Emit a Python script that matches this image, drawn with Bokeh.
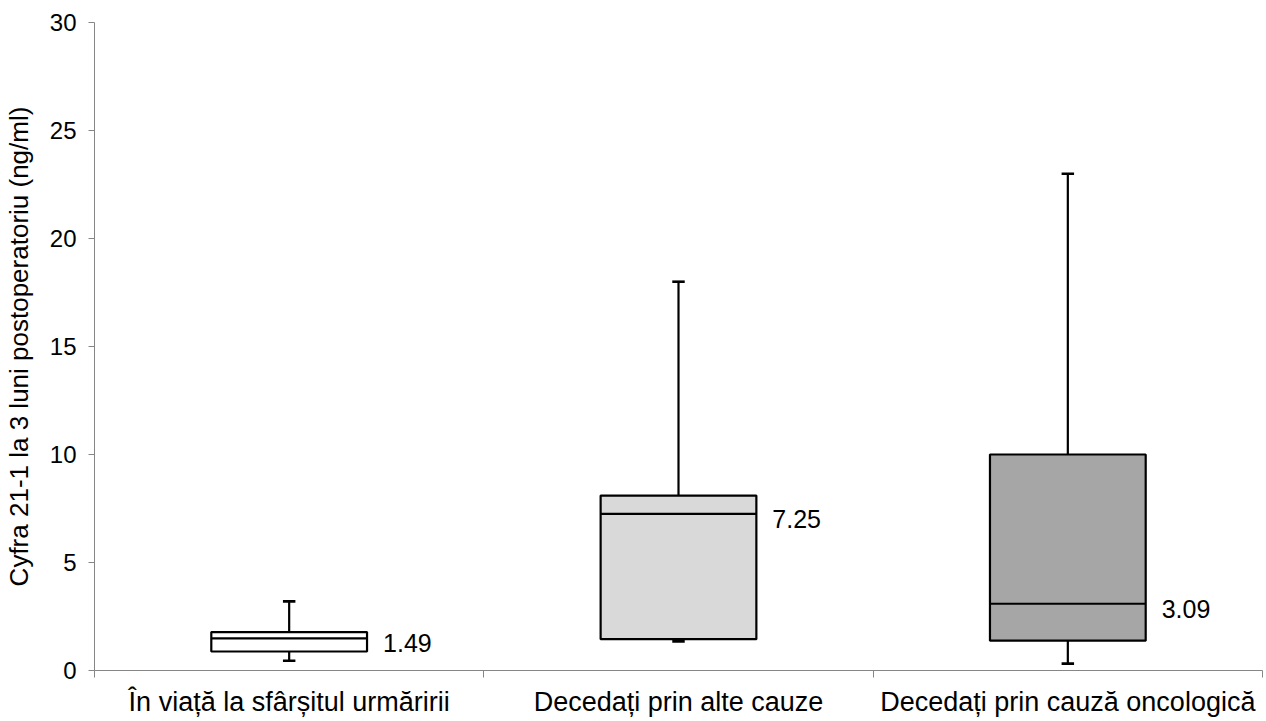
from bokeh.plotting import figure
from bokeh.models import FixedTicker, ColumnDataSource
from bokeh.embed import file_html
from bokeh.resources import INLINE
from bokeh.core.properties import value

# Group labels and box statistics (ng/ml)
categories = ["În viață la sfârșitul urmăririi",
              "Decedați prin alte cauze",
              "Decedați prin cauză oncologică"]
whisker_low = [0.45, 1.35, 0.32]
q1 = [0.88, 1.45, 1.38]
median = [1.49, 7.25, 3.09]
q3 = [1.78, 8.1, 10.0]
whisker_high = [3.2, 18.0, 23.0]
median_labels = ["1.49", "7.25", "3.09"]
fills = ["#ffffff", "#d9d9d9", "#a6a6a6"]

FONT = "Liberation Sans"
AXIS_GREY = "#868686"

centers = [i + 0.5 for i in range(len(categories))]
half = 0.2
cap = 0.016

src = ColumnDataSource(dict(
    x=centers,
    left=[c - half for c in centers],
    right=[c + half for c in centers],
    lo=whisker_low, q1=q1, med=median, q3=q3, hi=whisker_high,
    fill=fills, lab=median_labels,
    cl=[c - cap for c in centers], cr=[c + cap for c in centers],
))

p = figure(width=1266, height=721, x_range=(0, 3), y_range=(0, 30),
           output_backend="svg", toolbar_location=None,
           min_border_left=94, min_border_right=4,
           min_border_top=22, min_border_bottom=51)
p.outline_line_color = None
p.xgrid.visible = False
p.ygrid.visible = False
p.background_fill_color = "white"
p.border_fill_color = "white"

# whiskers
p.segment(x0="x", y0="q3", x1="x", y1="hi", source=src, line_color="black", line_width=2.2)
p.segment(x0="x", y0="lo", x1="x", y1="q1", source=src, line_color="black", line_width=2.2)
p.segment(x0="cl", y0="hi", x1="cr", y1="hi", source=src, line_color="black", line_width=2.6)
p.segment(x0="cl", y0="lo", x1="cr", y1="lo", source=src, line_color="black", line_width=2.6)

# boxes and medians
p.quad(left="left", right="right", bottom="q1", top="q3", source=src,
       fill_color="fill", line_color="black", line_width=2.2)
p.segment(x0="left", y0="med", x1="right", y1="med", source=src,
          line_color="black", line_width=2.2)

# median values
p.text(x="right", y="med", text="lab", source=src, x_offset=16, y_offset=5,
       text_font=value(FONT), text_font_size="25px", text_color="black",
       text_baseline="middle", text_align="left")

# x axis: category names centred, ticks between categories
xa = p.xaxis[0]
xa.ticker = FixedTicker(ticks=centers, minor_ticks=[0, 1, 2, 3])
xa.major_label_overrides = {c: n for c, n in zip(centers, categories)}
xa.major_tick_out = 0
xa.major_tick_in = 0
xa.minor_tick_out = 7
xa.minor_tick_in = 0
xa.minor_tick_line_color = AXIS_GREY
xa.axis_line_color = AXIS_GREY
xa.major_label_text_font = FONT
xa.major_label_text_font_size = "27px"
xa.major_label_text_color = "black"
xa.major_label_standoff = 9

ya = p.yaxis[0]
ya.ticker = FixedTicker(ticks=[0, 5, 10, 15, 20, 25, 30])
ya.major_tick_out = 6
ya.major_tick_in = 0
ya.minor_tick_line_color = None
ya.major_tick_line_color = AXIS_GREY
ya.axis_line_color = AXIS_GREY
ya.major_label_text_font = FONT
ya.major_label_text_font_size = "24px"
ya.major_label_text_color = "black"
ya.major_label_standoff = 12
ya.axis_label = "Cyfra 21-1 la 3 luni postoperatoriu (ng/ml)"
ya.axis_label_text_font = FONT
ya.axis_label_text_font_size = "26px"
ya.axis_label_text_font_style = "normal"
ya.axis_label_text_color = "black"
ya.axis_label_standoff = 13

open("out.html", "w").write(file_html(p, INLINE))
